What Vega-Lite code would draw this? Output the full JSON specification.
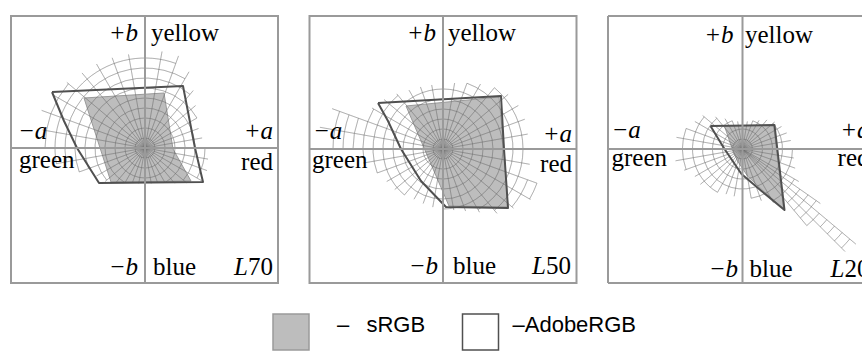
{
  "$schema": "https://vega.github.io/schema/vega-lite/v6.json",
  "padding": {"left": 9, "top": 14, "right": 0, "bottom": 0},
  "background": "white",
  "spacing": 31.5,
  "bounds": "flush",
  "config": {
    "view": {"stroke": "#9a9a9a", "strokeWidth": 2},
    "legend": {"symbolFillColor": "white", "symbolStrokeColor": "black", "symbolStrokeWidth": 1.5, "padding": 0},
    "text": {"font": "Liberation Serif", "fontSize": 25, "color": "black"}
  },
  "datasets": {
    "gamut": [
      {"panel": 1, "gamut": "sRGB", "i": 0, "a": -61, "b": 50},
      {"panel": 1, "gamut": "sRGB", "i": 1, "a": 19, "b": 55},
      {"panel": 1, "gamut": "sRGB", "i": 2, "a": 28, "b": -1},
      {"panel": 1, "gamut": "sRGB", "i": 3, "a": 46, "b": -33},
      {"panel": 1, "gamut": "sRGB", "i": 4, "a": -34, "b": -34},
      {"panel": 1, "gamut": "sRGB", "i": 5, "a": -61, "b": 50},
      {"panel": 1, "gamut": "AdobeRGB", "i": 0, "a": -93, "b": 56},
      {"panel": 1, "gamut": "AdobeRGB", "i": 1, "a": 38, "b": 62},
      {"panel": 1, "gamut": "AdobeRGB", "i": 2, "a": 50, "b": 0},
      {"panel": 1, "gamut": "AdobeRGB", "i": 3, "a": 58, "b": -34},
      {"panel": 1, "gamut": "AdobeRGB", "i": 4, "a": -46, "b": -35},
      {"panel": 1, "gamut": "AdobeRGB", "i": 5, "a": -68, "b": 0},
      {"panel": 1, "gamut": "AdobeRGB", "i": 6, "a": -81, "b": 27},
      {"panel": 1, "gamut": "AdobeRGB", "i": 7, "a": -93, "b": 56},
      {"panel": 2, "gamut": "sRGB", "i": 0, "a": -37, "b": 43},
      {"panel": 2, "gamut": "sRGB", "i": 1, "a": 56, "b": 52},
      {"panel": 2, "gamut": "sRGB", "i": 2, "a": 61, "b": 0},
      {"panel": 2, "gamut": "sRGB", "i": 3, "a": 65, "b": -58},
      {"panel": 2, "gamut": "sRGB", "i": 4, "a": 6, "b": -57},
      {"panel": 2, "gamut": "sRGB", "i": 5, "a": -37, "b": 43},
      {"panel": 2, "gamut": "AdobeRGB", "i": 0, "a": -65, "b": 46},
      {"panel": 2, "gamut": "AdobeRGB", "i": 1, "a": 58, "b": 53},
      {"panel": 2, "gamut": "AdobeRGB", "i": 2, "a": 61, "b": 0},
      {"panel": 2, "gamut": "AdobeRGB", "i": 3, "a": 65, "b": -59},
      {"panel": 2, "gamut": "AdobeRGB", "i": 4, "a": 3, "b": -58},
      {"panel": 2, "gamut": "AdobeRGB", "i": 5, "a": -22, "b": -32},
      {"panel": 2, "gamut": "AdobeRGB", "i": 6, "a": -42, "b": 0},
      {"panel": 2, "gamut": "AdobeRGB", "i": 7, "a": -55, "b": 28},
      {"panel": 2, "gamut": "AdobeRGB", "i": 8, "a": -65, "b": 46},
      {"panel": 3, "gamut": "sRGB", "i": 0, "a": -18, "b": 23},
      {"panel": 3, "gamut": "sRGB", "i": 1, "a": 31, "b": 24},
      {"panel": 3, "gamut": "sRGB", "i": 2, "a": 41, "b": -60},
      {"panel": 3, "gamut": "sRGB", "i": 3, "a": 22, "b": -43},
      {"panel": 3, "gamut": "sRGB", "i": 4, "a": 5, "b": -27},
      {"panel": 3, "gamut": "sRGB", "i": 5, "a": -5, "b": -12},
      {"panel": 3, "gamut": "sRGB", "i": 6, "a": -12, "b": 5},
      {"panel": 3, "gamut": "sRGB", "i": 7, "a": -18, "b": 23},
      {"panel": 3, "gamut": "AdobeRGB", "i": 0, "a": -32, "b": 23},
      {"panel": 3, "gamut": "AdobeRGB", "i": 1, "a": 32, "b": 24},
      {"panel": 3, "gamut": "AdobeRGB", "i": 2, "a": 42, "b": -61},
      {"panel": 3, "gamut": "AdobeRGB", "i": 3, "a": 19, "b": -42},
      {"panel": 3, "gamut": "AdobeRGB", "i": 4, "a": -1, "b": -25},
      {"panel": 3, "gamut": "AdobeRGB", "i": 5, "a": -18, "b": 0},
      {"panel": 3, "gamut": "AdobeRGB", "i": 6, "a": -32, "b": 23}
    ],
    "rays": [
      {"panel": 1, "t": 0, "r": 95}, {"panel": 1, "t": 10, "r": 98}, {"panel": 1, "t": 20, "r": 98}, {"panel": 1, "t": 30, "r": 88},
      {"panel": 1, "t": 40, "r": 75}, {"panel": 1, "t": 50, "r": 66}, {"panel": 1, "t": 60, "r": 60}, {"panel": 1, "t": 70, "r": 57},
      {"panel": 1, "t": 80, "r": 58}, {"panel": 1, "t": 90, "r": 62}, {"panel": 1, "t": 100, "r": 64}, {"panel": 1, "t": 110, "r": 66},
      {"panel": 1, "t": 120, "r": 66}, {"panel": 1, "t": 130, "r": 54}, {"panel": 1, "t": 140, "r": 46}, {"panel": 1, "t": 150, "r": 40},
      {"panel": 1, "t": 160, "r": 37}, {"panel": 1, "t": 170, "r": 36}, {"panel": 1, "t": 180, "r": 35}, {"panel": 1, "t": 190, "r": 36},
      {"panel": 1, "t": 200, "r": 37}, {"panel": 1, "t": 210, "r": 40}, {"panel": 1, "t": 220, "r": 45}, {"panel": 1, "t": 230, "r": 52},
      {"panel": 1, "t": 240, "r": 56}, {"panel": 1, "t": 250, "r": 70}, {"panel": 1, "t": 260, "r": 90}, {"panel": 1, "t": 270, "r": 103},
      {"panel": 1, "t": 280, "r": 104}, {"panel": 1, "t": 290, "r": 110}, {"panel": 1, "t": 300, "r": 106}, {"panel": 1, "t": 310, "r": 102},
      {"panel": 1, "t": 320, "r": 98}, {"panel": 1, "t": 330, "r": 97}, {"panel": 1, "t": 340, "r": 96}, {"panel": 1, "t": 350, "r": 95},
      {"panel": 2, "t": 0, "r": 65}, {"panel": 2, "t": 10, "r": 67}, {"panel": 2, "t": 20, "r": 70}, {"panel": 2, "t": 30, "r": 75},
      {"panel": 2, "t": 40, "r": 80}, {"panel": 2, "t": 50, "r": 85}, {"panel": 2, "t": 60, "r": 87}, {"panel": 2, "t": 70, "r": 87},
      {"panel": 2, "t": 80, "r": 86}, {"panel": 2, "t": 90, "r": 83}, {"panel": 2, "t": 100, "r": 88}, {"panel": 2, "t": 110, "r": 100},
      {"panel": 2, "t": 120, "r": 101}, {"panel": 2, "t": 130, "r": 92}, {"panel": 2, "t": 140, "r": 84}, {"panel": 2, "t": 150, "r": 73},
      {"panel": 2, "t": 160, "r": 66}, {"panel": 2, "t": 170, "r": 62}, {"panel": 2, "t": 180, "r": 60}, {"panel": 2, "t": 190, "r": 59},
      {"panel": 2, "t": 200, "r": 58}, {"panel": 2, "t": 210, "r": 58}, {"panel": 2, "t": 220, "r": 60}, {"panel": 2, "t": 230, "r": 63},
      {"panel": 2, "t": 240, "r": 65}, {"panel": 2, "t": 250, "r": 70}, {"panel": 2, "t": 260, "r": 81}, {"panel": 2, "t": 270, "r": 110},
      {"panel": 2, "t": 280, "r": 125}, {"panel": 2, "t": 290, "r": 118}, {"panel": 2, "t": 300, "r": 82}, {"panel": 2, "t": 310, "r": 77},
      {"panel": 2, "t": 320, "r": 72}, {"panel": 2, "t": 330, "r": 68}, {"panel": 2, "t": 340, "r": 66}, {"panel": 2, "t": 350, "r": 65},
      {"panel": 3, "t": 0, "r": 27}, {"panel": 3, "t": 10, "r": 28}, {"panel": 3, "t": 20, "r": 30}, {"panel": 3, "t": 30, "r": 33},
      {"panel": 3, "t": 40, "r": 38}, {"panel": 3, "t": 50, "r": 42}, {"panel": 3, "t": 60, "r": 45}, {"panel": 3, "t": 70, "r": 47},
      {"panel": 3, "t": 80, "r": 49}, {"panel": 3, "t": 90, "r": 50}, {"panel": 3, "t": 100, "r": 52}, {"panel": 3, "t": 110, "r": 56},
      {"panel": 3, "t": 120, "r": 65}, {"panel": 3, "t": 125, "r": 95}, {"panel": 3, "t": 130, "r": 148}, {"panel": 3, "t": 135, "r": 145},
      {"panel": 3, "t": 140, "r": 100}, {"panel": 3, "t": 150, "r": 62}, {"panel": 3, "t": 160, "r": 55}, {"panel": 3, "t": 170, "r": 50},
      {"panel": 3, "t": 180, "r": 48}, {"panel": 3, "t": 190, "r": 48}, {"panel": 3, "t": 200, "r": 48}, {"panel": 3, "t": 210, "r": 50},
      {"panel": 3, "t": 220, "r": 50}, {"panel": 3, "t": 230, "r": 55}, {"panel": 3, "t": 240, "r": 55}, {"panel": 3, "t": 250, "r": 62},
      {"panel": 3, "t": 260, "r": 68}, {"panel": 3, "t": 270, "r": 68}, {"panel": 3, "t": 280, "r": 67}, {"panel": 3, "t": 290, "r": 60},
      {"panel": 3, "t": 300, "r": 55}, {"panel": 3, "t": 310, "r": 52}, {"panel": 3, "t": 320, "r": 42}, {"panel": 3, "t": 330, "r": 35},
      {"panel": 3, "t": 340, "r": 30}, {"panel": 3, "t": 350, "r": 28}
    ],
    "rings": [
      {"panel": 1, "r": 10, "t1": 0, "t2": 360}, {"panel": 1, "r": 20, "t1": 0, "t2": 360}, {"panel": 1, "r": 30, "t1": 0, "t2": 360},
      {"panel": 1, "r": 40, "t1": -150, "t2": 150}, {"panel": 1, "r": 50, "t1": -130, "t2": 130},
      {"panel": 1, "r": 60, "t1": -110, "t2": 60}, {"panel": 1, "r": 60, "t1": 90, "t2": 120},
      {"panel": 1, "r": 70, "t1": -110, "t2": 40}, {"panel": 1, "r": 80, "t1": -100, "t2": 30},
      {"panel": 1, "r": 90, "t1": -100, "t2": 20}, {"panel": 1, "r": 100, "t1": -90, "t2": -50},
      {"panel": 2, "r": 10, "t1": 0, "t2": 360}, {"panel": 2, "r": 20, "t1": 0, "t2": 360}, {"panel": 2, "r": 30, "t1": 0, "t2": 360},
      {"panel": 2, "r": 40, "t1": 0, "t2": 360}, {"panel": 2, "r": 50, "t1": 0, "t2": 360},
      {"panel": 2, "r": 60, "t1": -140, "t2": 180},
      {"panel": 2, "r": 70, "t1": 20, "t2": 150}, {"panel": 2, "r": 70, "t1": -110, "t2": -40},
      {"panel": 2, "r": 80, "t1": 40, "t2": 140}, {"panel": 2, "r": 80, "t1": -100, "t2": -60},
      {"panel": 2, "r": 90, "t1": 110, "t2": 130}, {"panel": 2, "r": 90, "t1": -90, "t2": -70},
      {"panel": 2, "r": 100, "t1": 110, "t2": 120}, {"panel": 2, "r": 100, "t1": -90, "t2": -70},
      {"panel": 2, "r": 110, "t1": -90, "t2": -70},
      {"panel": 3, "r": 10, "t1": 0, "t2": 360}, {"panel": 3, "r": 20, "t1": 0, "t2": 360},
      {"panel": 3, "r": 30, "t1": 20, "t2": 340}, {"panel": 3, "r": 40, "t1": 50, "t2": 320},
      {"panel": 3, "r": 50, "t1": 90, "t2": 170}, {"panel": 3, "r": 50, "t1": 210, "t2": 310},
      {"panel": 3, "r": 60, "t1": 120, "t2": 150}, {"panel": 3, "r": 60, "t1": 250, "t2": 290},
      {"panel": 3, "r": 70, "t1": 125, "t2": 140}, {"panel": 3, "r": 80, "t1": 125, "t2": 140},
      {"panel": 3, "r": 90, "t1": 125, "t2": 140}, {"panel": 3, "r": 100, "t1": 130, "t2": 140},
      {"panel": 3, "r": 110, "t1": 130, "t2": 135}, {"panel": 3, "r": 120, "t1": 130, "t2": 135},
      {"panel": 3, "r": 130, "t1": 130, "t2": 135}, {"panel": 3, "r": 140, "t1": 130, "t2": 135}
    ],
    "labels": [
      {"panel": 1, "text": "+b", "a": -7, "b": 107}, {"panel": 1, "text": "yellow", "a": 6, "b": 107},
      {"panel": 1, "text": "−a", "a": -127, "b": 9}, {"panel": 1, "text": "green", "a": -126, "b": -20},
      {"panel": 1, "text": "+a", "a": 128, "b": 9}, {"panel": 1, "text": "red", "a": 128, "b": -22},
      {"panel": 1, "text": "−b", "a": -7, "b": -127}, {"panel": 1, "text": "blue", "a": 8, "b": -127},
      {"panel": 1, "text": "L", "a": 103, "b": -127}, {"panel": 1, "text": "70", "a": 128, "b": -127},
      {"panel": 2, "text": "+b", "a": -7, "b": 108}, {"panel": 2, "text": "yellow", "a": 5, "b": 108},
      {"panel": 2, "text": "−a", "a": -130, "b": 10}, {"panel": 2, "text": "green", "a": -131, "b": -19},
      {"panel": 2, "text": "+a", "a": 129, "b": 7}, {"panel": 2, "text": "red", "a": 129, "b": -23},
      {"panel": 2, "text": "−b", "a": -5, "b": -125}, {"panel": 2, "text": "blue", "a": 10, "b": -125},
      {"panel": 2, "text": "L", "a": 103, "b": -125}, {"panel": 2, "text": "50", "a": 128, "b": -125},
      {"panel": 3, "text": "+b", "a": -9, "b": 106}, {"panel": 3, "text": "yellow", "a": 2.5, "b": 106},
      {"panel": 3, "text": "−a", "a": -131, "b": 11}, {"panel": 3, "text": "green", "a": -131, "b": -17},
      {"panel": 3, "text": "+a", "a": 127, "b": 11}, {"panel": 3, "text": "red", "a": 127, "b": -17},
      {"panel": 3, "text": "−b", "a": -4.5, "b": -128}, {"panel": 3, "text": "blue", "a": 7, "b": -128},
      {"panel": 3, "text": "L", "a": 102, "b": -128}, {"panel": 3, "text": "20", "a": 127, "b": -128}
    ]
  },
  "hconcat": [
    {
      "width": 267, "height": 267,
      "layer": [
        {"data": {"name": "gamut"}, "transform": [{"filter": "datum.panel == 1 && datum.gamut == 'sRGB'"}],
         "mark": {"type": "line", "strokeWidth": 1, "strokeJoin": "round", "clip": true},
         "encoding": {
           "x": {"field": "a", "type": "quantitative", "scale": {"domain": [-134, 133], "nice": false, "zero": false}, "axis": null},
           "y": {"field": "b", "type": "quantitative", "scale": {"domain": [-135, 132], "nice": false, "zero": false}, "axis": null},
           "order": {"field": "i"},
           "fill": {"field": "gamut", "type": "nominal", "scale": {"domain": ["sRGB", "AdobeRGB"], "range": ["#bdbdbd", "transparent"]},
             "legend": {"title": null, "orient": "none", "legendX": 261, "legendY": 297, "direction": "horizontal", "symbolType": "square", "symbolSize": 1296, "labelOffset": 13, "columnPadding": 33.5, "labelFont": "Liberation Sans", "labelFontSize": 22, "labelBaseline": "alphabetic", "labelColor": "black", "labelExpr": "datum.value == 'sRGB' ? '\u200b\u00a0\u00a0\u200a–\u2002\u00a0sRGB' : '–AdobeRGB'"}},
           "stroke": {"field": "gamut", "type": "nominal", "scale": {"domain": ["sRGB", "AdobeRGB"], "range": ["#9a9a9a", "#505050"]},
             "legend": {"title": null, "orient": "none", "legendX": 261, "legendY": 297, "direction": "horizontal", "symbolType": "square", "symbolSize": 1296, "labelOffset": 13, "columnPadding": 33.5, "labelFont": "Liberation Sans", "labelFontSize": 22, "labelBaseline": "alphabetic", "labelColor": "black", "labelExpr": "datum.value == 'sRGB' ? '\u200b\u00a0\u00a0\u200a–\u2002\u00a0sRGB' : '–AdobeRGB'"}}
         }},
        {"data": {"name": "rings"}, "transform": [{"filter": "datum.panel == 1"}],
         "mark": {"type": "arc", "filled": false, "stroke": "#6a6a6a", "strokeOpacity": 0.3, "strokeWidth": 1, "clip": true},
         "encoding": {
           "x": {"datum": 0, "type": "quantitative"}, "y": {"datum": 0, "type": "quantitative"},
           "theta": {"field": "t1", "type": "quantitative", "stack": null, "scale": {"domain": [0, 360], "range": [0, 6.283185307179586]}},
           "theta2": {"field": "t2"},
           "radius": {"field": "r", "type": "quantitative", "scale": {"type": "linear", "zero": true, "domain": [0, 100], "range": [0, 100]}},
           "radius2": {"field": "r"}
         }},
        {"data": {"name": "rays"}, "transform": [{"filter": "datum.panel == 1"}],
         "mark": {"type": "arc", "filled": false, "stroke": "#6a6a6a", "strokeOpacity": 0.3, "strokeWidth": 1, "clip": true},
         "encoding": {
           "x": {"datum": 0, "type": "quantitative"}, "y": {"datum": 0, "type": "quantitative"},
           "theta": {"field": "t", "type": "quantitative", "stack": null, "scale": {"domain": [0, 360], "range": [0, 6.283185307179586]}},
           "theta2": {"field": "t"},
           "radius": {"field": "r", "type": "quantitative", "scale": {"type": "linear", "zero": true, "domain": [0, 100], "range": [0, 100]}}
         }},
        {"data": {"name": "gamut"}, "transform": [{"filter": "datum.panel == 1 && datum.gamut == 'AdobeRGB'"}],
         "mark": {"type": "line", "strokeWidth": 2, "strokeJoin": "round", "clip": true},
         "encoding": {
           "x": {"field": "a", "type": "quantitative"}, "y": {"field": "b", "type": "quantitative"},
           "order": {"field": "i"},
           "fill": {"field": "gamut", "type": "nominal", "legend": null},
           "stroke": {"field": "gamut", "type": "nominal", "legend": null}
         }},
        {"data": {"values": [{}]}, "mark": {"type": "rule", "color": "#9a9a9a", "strokeWidth": 2}, "encoding": {"x": {"datum": 0, "type": "quantitative"}}},
        {"data": {"values": [{}]}, "mark": {"type": "rule", "color": "#9a9a9a", "strokeWidth": 2}, "encoding": {"y": {"datum": 0, "type": "quantitative"}}},
        {"data": {"name": "labels"}, "transform": [{"filter": "datum.panel == 1"}, {"filter": {"field": "text", "oneOf": ["+b", "−b", "+a", "L"]}}],
         "mark": {"type": "text", "align": "right", "baseline": "alphabetic", "fontStyle": "italic"},
         "encoding": {"x": {"field": "a", "type": "quantitative"}, "y": {"field": "b", "type": "quantitative"}, "text": {"field": "text"}}},
        {"data": {"name": "labels"}, "transform": [{"filter": "datum.panel == 1"}, {"filter": {"field": "text", "oneOf": ["−a"]}}],
         "mark": {"type": "text", "align": "left", "baseline": "alphabetic", "fontStyle": "italic"},
         "encoding": {"x": {"field": "a", "type": "quantitative"}, "y": {"field": "b", "type": "quantitative"}, "text": {"field": "text"}}},
        {"data": {"name": "labels"}, "transform": [{"filter": "datum.panel == 1"}, {"filter": {"field": "text", "oneOf": ["yellow", "blue", "green"]}}],
         "mark": {"type": "text", "align": "left", "baseline": "alphabetic"},
         "encoding": {"x": {"field": "a", "type": "quantitative"}, "y": {"field": "b", "type": "quantitative"}, "text": {"field": "text"}}},
        {"data": {"name": "labels"}, "transform": [{"filter": "datum.panel == 1"}, {"filter": {"field": "text", "oneOf": ["red", "70", "50", "20"]}}],
         "mark": {"type": "text", "align": "right", "baseline": "alphabetic"},
         "encoding": {"x": {"field": "a", "type": "quantitative"}, "y": {"field": "b", "type": "quantitative"}, "text": {"field": "text"}}}
      ]
    },
    {
      "width": 267, "height": 267,
      "layer": [
        {"data": {"name": "gamut"}, "transform": [{"filter": "datum.panel == 2 && datum.gamut == 'sRGB'"}],
         "mark": {"type": "line", "strokeWidth": 1, "strokeJoin": "round", "clip": true},
         "encoding": {
           "x": {"field": "a", "type": "quantitative", "scale": {"domain": [-133.5, 133.5], "nice": false, "zero": false}, "axis": null},
           "y": {"field": "b", "type": "quantitative", "scale": {"domain": [-134, 133], "nice": false, "zero": false}, "axis": null},
           "order": {"field": "i"},
           "fill": {"field": "gamut", "type": "nominal", "legend": null},
           "stroke": {"field": "gamut", "type": "nominal", "legend": null}
         }},
        {"data": {"name": "rings"}, "transform": [{"filter": "datum.panel == 2"}],
         "mark": {"type": "arc", "filled": false, "stroke": "#6a6a6a", "strokeOpacity": 0.3, "strokeWidth": 1, "clip": true},
         "encoding": {
           "x": {"datum": 0, "type": "quantitative"}, "y": {"datum": 0, "type": "quantitative"},
           "theta": {"field": "t1", "type": "quantitative", "stack": null, "scale": {"domain": [0, 360], "range": [0, 6.283185307179586]}},
           "theta2": {"field": "t2"},
           "radius": {"field": "r", "type": "quantitative", "scale": {"type": "linear", "zero": true, "domain": [0, 100], "range": [0, 100]}},
           "radius2": {"field": "r"}
         }},
        {"data": {"name": "rays"}, "transform": [{"filter": "datum.panel == 2"}],
         "mark": {"type": "arc", "filled": false, "stroke": "#6a6a6a", "strokeOpacity": 0.3, "strokeWidth": 1, "clip": true},
         "encoding": {
           "x": {"datum": 0, "type": "quantitative"}, "y": {"datum": 0, "type": "quantitative"},
           "theta": {"field": "t", "type": "quantitative", "stack": null, "scale": {"domain": [0, 360], "range": [0, 6.283185307179586]}},
           "theta2": {"field": "t"},
           "radius": {"field": "r", "type": "quantitative", "scale": {"type": "linear", "zero": true, "domain": [0, 100], "range": [0, 100]}}
         }},
        {"data": {"name": "gamut"}, "transform": [{"filter": "datum.panel == 2 && datum.gamut == 'AdobeRGB'"}],
         "mark": {"type": "line", "strokeWidth": 2, "strokeJoin": "round", "clip": true},
         "encoding": {
           "x": {"field": "a", "type": "quantitative"}, "y": {"field": "b", "type": "quantitative"},
           "order": {"field": "i"},
           "fill": {"field": "gamut", "type": "nominal", "legend": null},
           "stroke": {"field": "gamut", "type": "nominal", "legend": null}
         }},
        {"data": {"values": [{}]}, "mark": {"type": "rule", "color": "#9a9a9a", "strokeWidth": 2}, "encoding": {"x": {"datum": 0, "type": "quantitative"}}},
        {"data": {"values": [{}]}, "mark": {"type": "rule", "color": "#9a9a9a", "strokeWidth": 2}, "encoding": {"y": {"datum": 0, "type": "quantitative"}}},
        {"data": {"name": "labels"}, "transform": [{"filter": "datum.panel == 2"}, {"filter": {"field": "text", "oneOf": ["+b", "−b", "+a", "L"]}}],
         "mark": {"type": "text", "align": "right", "baseline": "alphabetic", "fontStyle": "italic"},
         "encoding": {"x": {"field": "a", "type": "quantitative"}, "y": {"field": "b", "type": "quantitative"}, "text": {"field": "text"}}},
        {"data": {"name": "labels"}, "transform": [{"filter": "datum.panel == 2"}, {"filter": {"field": "text", "oneOf": ["−a"]}}],
         "mark": {"type": "text", "align": "left", "baseline": "alphabetic", "fontStyle": "italic"},
         "encoding": {"x": {"field": "a", "type": "quantitative"}, "y": {"field": "b", "type": "quantitative"}, "text": {"field": "text"}}},
        {"data": {"name": "labels"}, "transform": [{"filter": "datum.panel == 2"}, {"filter": {"field": "text", "oneOf": ["yellow", "blue", "green"]}}],
         "mark": {"type": "text", "align": "left", "baseline": "alphabetic"},
         "encoding": {"x": {"field": "a", "type": "quantitative"}, "y": {"field": "b", "type": "quantitative"}, "text": {"field": "text"}}},
        {"data": {"name": "labels"}, "transform": [{"filter": "datum.panel == 2"}, {"filter": {"field": "text", "oneOf": ["red", "70", "50", "20"]}}],
         "mark": {"type": "text", "align": "right", "baseline": "alphabetic"},
         "encoding": {"x": {"field": "a", "type": "quantitative"}, "y": {"field": "b", "type": "quantitative"}, "text": {"field": "text"}}}
      ]
    },
    {
      "width": 255, "height": 267,
      "view": {"stroke": null},
      "layer": [
        {"data": {"name": "gamut"}, "transform": [{"filter": "datum.panel == 3 && datum.gamut == 'sRGB'"}],
         "mark": {"type": "line", "strokeWidth": 1, "strokeJoin": "round", "clip": true},
         "encoding": {
           "x": {"field": "a", "type": "quantitative", "scale": {"domain": [-134.5, 120.5], "nice": false, "zero": false}, "axis": null},
           "y": {"field": "b", "type": "quantitative", "scale": {"domain": [-134, 133], "nice": false, "zero": false}, "axis": null},
           "order": {"field": "i"},
           "fill": {"field": "gamut", "type": "nominal", "legend": null},
           "stroke": {"field": "gamut", "type": "nominal", "legend": null}
         }},
        {"data": {"name": "rings"}, "transform": [{"filter": "datum.panel == 3"}],
         "mark": {"type": "arc", "filled": false, "stroke": "#6a6a6a", "strokeOpacity": 0.3, "strokeWidth": 1, "clip": true},
         "encoding": {
           "x": {"datum": 0, "type": "quantitative"}, "y": {"datum": 0, "type": "quantitative"},
           "theta": {"field": "t1", "type": "quantitative", "stack": null, "scale": {"domain": [0, 360], "range": [0, 6.283185307179586]}},
           "theta2": {"field": "t2"},
           "radius": {"field": "r", "type": "quantitative", "scale": {"type": "linear", "zero": true, "domain": [0, 100], "range": [0, 100]}},
           "radius2": {"field": "r"}
         }},
        {"data": {"name": "rays"}, "transform": [{"filter": "datum.panel == 3"}],
         "mark": {"type": "arc", "filled": false, "stroke": "#6a6a6a", "strokeOpacity": 0.3, "strokeWidth": 1, "clip": true},
         "encoding": {
           "x": {"datum": 0, "type": "quantitative"}, "y": {"datum": 0, "type": "quantitative"},
           "theta": {"field": "t", "type": "quantitative", "stack": null, "scale": {"domain": [0, 360], "range": [0, 6.283185307179586]}},
           "theta2": {"field": "t"},
           "radius": {"field": "r", "type": "quantitative", "scale": {"type": "linear", "zero": true, "domain": [0, 100], "range": [0, 100]}}
         }},
        {"data": {"name": "gamut"}, "transform": [{"filter": "datum.panel == 3 && datum.gamut == 'AdobeRGB'"}],
         "mark": {"type": "line", "strokeWidth": 2, "strokeJoin": "round", "clip": true},
         "encoding": {
           "x": {"field": "a", "type": "quantitative"}, "y": {"field": "b", "type": "quantitative"},
           "order": {"field": "i"},
           "fill": {"field": "gamut", "type": "nominal", "legend": null},
           "stroke": {"field": "gamut", "type": "nominal", "legend": null}
         }},
        {"data": {"values": [{}]}, "mark": {"type": "rule", "color": "#9a9a9a", "strokeWidth": 2}, "encoding": {"x": {"datum": 0, "type": "quantitative"}}},
        {"data": {"values": [{}]}, "mark": {"type": "rule", "color": "#9a9a9a", "strokeWidth": 2}, "encoding": {"y": {"datum": 0, "type": "quantitative"}}},
        {"data": {"values": [{}]}, "mark": {"type": "rule", "color": "#9a9a9a", "strokeWidth": 2}, "encoding": {"y": {"datum": 133, "type": "quantitative"}}},
        {"data": {"values": [{}]}, "mark": {"type": "rule", "color": "#9a9a9a", "strokeWidth": 2}, "encoding": {"y": {"datum": -134, "type": "quantitative"}}},
        {"data": {"values": [{}]}, "mark": {"type": "rule", "color": "#9a9a9a", "strokeWidth": 2}, "encoding": {"x": {"datum": -134.5, "type": "quantitative"}}},
        {"data": {"name": "labels"}, "transform": [{"filter": "datum.panel == 3"}, {"filter": {"field": "text", "oneOf": ["+b", "−b", "+a", "L"]}}],
         "mark": {"type": "text", "align": "right", "baseline": "alphabetic", "fontStyle": "italic", "clip": true},
         "encoding": {"x": {"field": "a", "type": "quantitative"}, "y": {"field": "b", "type": "quantitative"}, "text": {"field": "text"}}},
        {"data": {"name": "labels"}, "transform": [{"filter": "datum.panel == 3"}, {"filter": {"field": "text", "oneOf": ["−a"]}}],
         "mark": {"type": "text", "align": "left", "baseline": "alphabetic", "fontStyle": "italic", "clip": true},
         "encoding": {"x": {"field": "a", "type": "quantitative"}, "y": {"field": "b", "type": "quantitative"}, "text": {"field": "text"}}},
        {"data": {"name": "labels"}, "transform": [{"filter": "datum.panel == 3"}, {"filter": {"field": "text", "oneOf": ["yellow", "blue", "green"]}}],
         "mark": {"type": "text", "align": "left", "baseline": "alphabetic", "clip": true},
         "encoding": {"x": {"field": "a", "type": "quantitative"}, "y": {"field": "b", "type": "quantitative"}, "text": {"field": "text"}}},
        {"data": {"name": "labels"}, "transform": [{"filter": "datum.panel == 3"}, {"filter": {"field": "text", "oneOf": ["red", "70", "50", "20"]}}],
         "mark": {"type": "text", "align": "right", "baseline": "alphabetic", "clip": true},
         "encoding": {"x": {"field": "a", "type": "quantitative"}, "y": {"field": "b", "type": "quantitative"}, "text": {"field": "text"}}}
      ]
    }
  ]
}
